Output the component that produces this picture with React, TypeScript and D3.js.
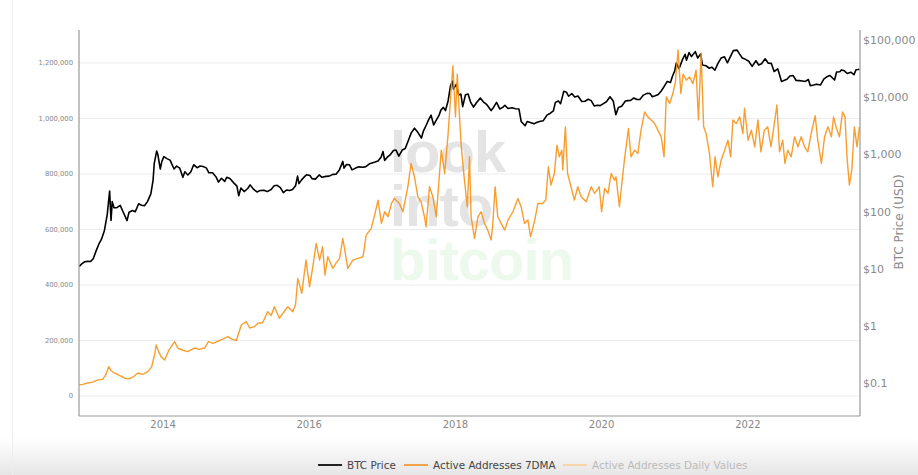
import React from "react";
import * as d3 from "d3";

const W = 918;
const H = 475;

const leftTicks = [0, 200000, 400000, 600000, 800000, 1000000, 1200000];
const rightTicks = [0.1, 1, 10, 100, 1000, 10000, 100000];
const rightTickLabels = ["$0.1", "$1", "$10", "$100", "$1,000", "$10,000", "$100,000"];
const xTickYears = [2014, 2016, 2018, 2020, 2022];
const legendItems = ["BTC Price", "Active Addresses 7DMA", "Active Addresses Daily Values"];

const btcPrice: [string, number][] = [
  ["2012-11-08", 11.0], ["2012-11-22", 12.3], ["2012-12-06", 13.3], ["2012-12-20", 13.5],
  ["2013-01-03", 13.4], ["2013-01-17", 15.0], ["2013-01-31", 20.4], ["2013-02-14", 27], ["2013-02-28", 33.4],
  ["2013-03-14", 47], ["2013-03-28", 89], ["2013-04-09", 230], ["2013-04-16", 70], ["2013-04-22", 150],
  ["2013-05-01", 117], ["2013-05-15", 118], ["2013-06-01", 129], ["2013-06-15", 100], ["2013-07-05", 70],
  ["2013-07-15", 98], ["2013-08-01", 105], ["2013-08-15", 100], ["2013-09-01", 138], ["2013-09-15", 130],
  ["2013-10-01", 128], ["2013-10-15", 150], ["2013-11-01", 205], ["2013-11-12", 355], ["2013-11-18", 700],
  ["2013-11-30", 1150], ["2013-12-06", 1000], ["2013-12-18", 560], ["2013-12-26", 760], ["2014-01-05", 920],
  ["2014-01-20", 850], ["2014-02-05", 800], ["2014-02-25", 560], ["2014-03-10", 630], ["2014-03-25", 580],
  ["2014-04-10", 400], ["2014-04-20", 500], ["2014-05-05", 440], ["2014-05-20", 500], ["2014-06-03", 665],
  ["2014-06-20", 590], ["2014-07-05", 630], ["2014-07-20", 620], ["2014-08-05", 585], ["2014-08-18", 480],
  ["2014-09-05", 480], ["2014-09-22", 410], ["2014-10-05", 330], ["2014-10-20", 385], ["2014-11-05", 340],
  ["2014-11-15", 400], ["2014-12-01", 380], ["2014-12-20", 320], ["2015-01-05", 280], ["2015-01-14", 190],
  ["2015-01-25", 260], ["2015-02-10", 225], ["2015-02-28", 255], ["2015-03-12", 295], ["2015-03-30", 245],
  ["2015-04-15", 222], ["2015-05-01", 235], ["2015-05-20", 237], ["2015-06-05", 225], ["2015-06-25", 245],
  ["2015-07-10", 285], ["2015-07-25", 290], ["2015-08-10", 265], ["2015-08-25", 215], ["2015-09-10", 240],
  ["2015-09-25", 235], ["2015-10-10", 245], ["2015-10-25", 285], ["2015-11-04", 420], ["2015-11-11", 310],
  ["2015-11-25", 365], ["2015-12-10", 415], ["2015-12-20", 445], ["2016-01-05", 430], ["2016-01-15", 380],
  ["2016-02-01", 372], ["2016-02-20", 440], ["2016-03-05", 400], ["2016-03-25", 415], ["2016-04-10", 420],
  ["2016-04-28", 450], ["2016-05-15", 455], ["2016-05-30", 530], ["2016-06-17", 760], ["2016-06-23", 580],
  ["2016-07-05", 670], ["2016-07-20", 665], ["2016-08-02", 540], ["2016-08-20", 580], ["2016-09-05", 610],
  ["2016-09-25", 600], ["2016-10-10", 615], ["2016-10-28", 690], ["2016-11-10", 715], ["2016-11-25", 740],
  ["2016-12-10", 770], ["2016-12-25", 900], ["2017-01-04", 1130], ["2017-01-12", 790], ["2017-01-25", 900],
  ["2017-02-10", 1000], ["2017-02-25", 1180], ["2017-03-10", 1200], ["2017-03-24", 940], ["2017-04-10", 1200],
  ["2017-04-25", 1280], ["2017-05-10", 1750], ["2017-05-25", 2400], ["2017-06-10", 2900], ["2017-06-25", 2500],
  ["2017-07-15", 1950], ["2017-07-25", 2600], ["2017-08-10", 3400], ["2017-08-20", 4100], ["2017-09-01", 4900],
  ["2017-09-14", 3300], ["2017-09-25", 3900], ["2017-10-10", 4800], ["2017-10-20", 6000], ["2017-11-01", 6700],
  ["2017-11-12", 5900], ["2017-11-25", 8700], ["2017-12-07", 16000], ["2017-12-17", 19300], ["2017-12-22", 14000],
  ["2018-01-05", 17000], ["2018-01-17", 11000], ["2018-01-28", 11500], ["2018-02-06", 6900], ["2018-02-20", 11200],
  ["2018-03-05", 11500], ["2018-03-18", 8200], ["2018-04-01", 6800], ["2018-04-15", 8000], ["2018-05-05", 9800],
  ["2018-05-20", 8400], ["2018-06-05", 7600], ["2018-06-28", 5900], ["2018-07-10", 6700], ["2018-07-25", 8200],
  ["2018-08-10", 6300], ["2018-08-25", 6700], ["2018-09-05", 7300], ["2018-09-20", 6400], ["2018-10-10", 6600],
  ["2018-10-28", 6350], ["2018-11-14", 6300], ["2018-11-25", 3800], ["2018-12-15", 3200], ["2018-12-25", 3800],
  ["2019-01-10", 3650], ["2019-01-28", 3450], ["2019-02-10", 3650], ["2019-02-25", 3800], ["2019-03-15", 3900],
  ["2019-04-03", 4900], ["2019-04-20", 5300], ["2019-05-05", 5800], ["2019-05-15", 8200], ["2019-05-30", 8700],
  ["2019-06-10", 7800], ["2019-06-26", 12800], ["2019-07-10", 12300], ["2019-07-20", 10500], ["2019-08-05", 11700],
  ["2019-08-20", 10200], ["2019-09-05", 10600], ["2019-09-24", 8500], ["2019-10-10", 8600], ["2019-10-26", 9300],
  ["2019-11-10", 8800], ["2019-11-25", 7100], ["2019-12-10", 7300], ["2019-12-25", 7200], ["2020-01-10", 7800],
  ["2020-01-25", 8400], ["2020-02-12", 10300], ["2020-02-28", 8700], ["2020-03-12", 5000], ["2020-03-25", 6700],
  ["2020-04-10", 7000], ["2020-04-29", 8700], ["2020-05-10", 8800], ["2020-05-25", 8900], ["2020-06-10", 9800],
  ["2020-06-25", 9200], ["2020-07-10", 9250], ["2020-07-28", 11000], ["2020-08-15", 11800], ["2020-08-30", 11700],
  ["2020-09-10", 10300], ["2020-09-25", 10700], ["2020-10-10", 11300], ["2020-10-25", 13000], ["2020-11-08", 15500],
  ["2020-11-24", 19100], ["2020-12-10", 18300], ["2020-12-20", 23500], ["2020-12-31", 29000], ["2021-01-08", 40000],
  ["2021-01-22", 32000], ["2021-02-08", 46000], ["2021-02-21", 57000], ["2021-02-28", 45000], ["2021-03-13", 61000],
  ["2021-03-25", 52000], ["2021-04-13", 63500], ["2021-04-25", 49000], ["2021-05-10", 58000], ["2021-05-19", 37000],
  ["2021-06-05", 36000], ["2021-06-22", 32500], ["2021-07-05", 34000], ["2021-07-20", 30000], ["2021-08-05", 40000],
  ["2021-08-20", 49000], ["2021-09-06", 51500], ["2021-09-21", 40500], ["2021-10-05", 51500], ["2021-10-20", 66000],
  ["2021-11-08", 67500], ["2021-11-20", 58000], ["2021-12-04", 49000], ["2021-12-20", 46500], ["2022-01-05", 43000],
  ["2022-01-22", 35000], ["2022-02-10", 44000], ["2022-02-24", 37000], ["2022-03-10", 39000], ["2022-03-28", 47500],
  ["2022-04-12", 40000], ["2022-04-28", 39500], ["2022-05-12", 28500], ["2022-05-30", 31800], ["2022-06-18", 19000],
  ["2022-06-30", 19800], ["2022-07-15", 20800], ["2022-07-30", 23700], ["2022-08-15", 24200], ["2022-08-30", 19800],
  ["2022-09-15", 19700], ["2022-09-30", 19400], ["2022-10-15", 19100], ["2022-10-30", 20600], ["2022-11-09", 16000],
  ["2022-11-25", 16500], ["2022-12-10", 17100], ["2022-12-30", 16550], ["2023-01-15", 20900], ["2023-01-30", 23000],
  ["2023-02-15", 24300], ["2023-03-10", 20200], ["2023-03-20", 28000], ["2023-04-05", 28200], ["2023-04-14", 30400],
  ["2023-04-28", 29300], ["2023-05-12", 26300], ["2023-05-30", 27700], ["2023-06-15", 25100], ["2023-06-25", 30500],
  ["2023-07-05", 30800], ["2023-07-13", 31300],
];

const activeAddresses7dma: [string, number][] = [
  ["2012-11-08", 40000], ["2012-11-25", 42000], ["2012-12-21", 47000], ["2013-01-15", 50000], ["2013-02-10", 58000],
  ["2013-03-05", 60000], ["2013-03-20", 75000], ["2013-04-05", 106000], ["2013-04-15", 92000], ["2013-05-02", 83000],
  ["2013-05-25", 75000], ["2013-06-22", 65000], ["2013-07-10", 62000], ["2013-07-25", 65000], ["2013-08-10", 72000],
  ["2013-08-28", 83000], ["2013-09-20", 78000], ["2013-10-17", 88000], ["2013-11-05", 105000], ["2013-11-20", 150000],
  ["2013-11-28", 184000], ["2013-12-10", 160000], ["2013-12-22", 142000], ["2014-01-09", 130000], ["2014-01-30", 165000],
  ["2014-02-28", 196000], ["2014-03-15", 173000], ["2014-04-10", 165000], ["2014-05-04", 160000], ["2014-06-07", 173000],
  ["2014-07-01", 168000], ["2014-07-27", 173000], ["2014-08-16", 196000], ["2014-09-07", 190000], ["2014-10-10", 200000],
  ["2014-11-21", 214000], ["2014-12-10", 205000], ["2015-01-02", 200000], ["2015-01-27", 256000], ["2015-02-21", 268000],
  ["2015-03-10", 245000], ["2015-04-02", 250000], ["2015-04-20", 262000], ["2015-05-13", 264000], ["2015-06-08", 304000],
  ["2015-06-25", 290000], ["2015-07-11", 322000], ["2015-08-05", 280000], ["2015-08-25", 300000], ["2015-09-16", 322000],
  ["2015-10-11", 304000], ["2015-10-25", 330000], ["2015-11-05", 424000], ["2015-11-25", 370000], ["2015-12-16", 490000],
  ["2016-01-03", 394000], ["2016-01-20", 470000], ["2016-02-05", 550000], ["2016-02-22", 490000], ["2016-03-08", 538000],
  ["2016-03-20", 436000], ["2016-04-03", 502000], ["2016-04-28", 460000], ["2016-05-15", 480000], ["2016-06-01", 496000],
  ["2016-06-17", 568000], ["2016-07-12", 460000], ["2016-07-25", 475000], ["2016-08-06", 490000], ["2016-09-01", 496000],
  ["2016-09-26", 502000], ["2016-10-12", 580000], ["2016-11-06", 604000], ["2016-11-23", 652000], ["2016-12-10", 706000],
  ["2016-12-27", 622000], ["2017-01-12", 664000], ["2017-01-29", 646000], ["2017-02-15", 694000], ["2017-03-02", 712000],
  ["2017-03-27", 694000], ["2017-04-13", 664000], ["2017-05-08", 754000], ["2017-05-24", 838000], ["2017-06-10", 790000],
  ["2017-06-27", 718000], ["2017-07-13", 700000], ["2017-07-30", 646000], ["2017-08-07", 610000], ["2017-08-24", 754000],
  ["2017-09-10", 718000], ["2017-09-27", 646000], ["2017-10-22", 886000], ["2017-11-08", 802000], ["2017-11-24", 934000],
  ["2017-12-10", 1100000], ["2017-12-19", 1190000], ["2018-01-01", 1006000], ["2018-01-10", 1160000], ["2018-01-22", 995000],
  ["2018-01-30", 898000], ["2018-02-13", 790000], ["2018-03-01", 682000], ["2018-03-12", 862000], ["2018-03-20", 646000],
  ["2018-04-06", 568000], ["2018-04-23", 646000], ["2018-05-09", 664000], ["2018-05-26", 622000], ["2018-06-11", 598000],
  ["2018-06-28", 562000], ["2018-07-06", 616000], ["2018-07-18", 754000], ["2018-07-31", 646000], ["2018-08-17", 622000],
  ["2018-09-04", 598000], ["2018-09-20", 634000], ["2018-10-15", 664000], ["2018-11-09", 712000], ["2018-11-25", 682000],
  ["2018-12-12", 622000], ["2018-12-29", 634000], ["2019-01-11", 574000], ["2019-02-01", 634000], ["2019-02-17", 694000],
  ["2019-03-12", 694000], ["2019-03-28", 706000], ["2019-04-10", 826000], ["2019-04-23", 760000], ["2019-05-10", 802000],
  ["2019-05-23", 904000], ["2019-06-04", 862000], ["2019-06-16", 886000], ["2019-06-21", 815000], ["2019-07-04", 970000],
  ["2019-07-15", 802000], ["2019-08-01", 754000], ["2019-08-18", 706000], ["2019-09-04", 754000], ["2019-09-21", 718000],
  ["2019-10-16", 700000], ["2019-11-10", 754000], ["2019-11-27", 730000], ["2019-12-20", 754000], ["2020-01-01", 664000],
  ["2020-01-16", 748000], ["2020-02-02", 730000], ["2020-02-18", 802000], ["2020-03-05", 778000], ["2020-03-13", 790000],
  ["2020-03-30", 682000], ["2020-04-11", 766000], ["2020-04-24", 850000], ["2020-05-14", 964000], ["2020-05-27", 862000],
  ["2020-06-14", 886000], ["2020-06-30", 874000], ["2020-07-16", 958000], ["2020-08-03", 1024000], ["2020-08-19", 1006000],
  ["2020-09-05", 995000], ["2020-09-22", 982000], ["2020-10-08", 958000], ["2020-10-25", 934000], ["2020-11-08", 862000],
  ["2020-11-19", 1078000], ["2020-12-06", 1054000], ["2020-12-22", 1090000], ["2021-01-04", 1133000], ["2021-01-17", 1247000],
  ["2021-01-31", 1090000], ["2021-02-11", 1160000], ["2021-02-28", 1138000], ["2021-03-15", 1150000], ["2021-04-01", 1126000],
  ["2021-04-17", 1174000], ["2021-04-29", 995000], ["2021-05-12", 1235000], ["2021-05-25", 970000], ["2021-06-06", 946000],
  ["2021-06-23", 874000], ["2021-07-09", 754000], ["2021-07-21", 862000], ["2021-08-04", 790000], ["2021-08-20", 850000],
  ["2021-09-07", 886000], ["2021-09-23", 922000], ["2021-10-07", 862000], ["2021-10-18", 995000], ["2021-11-04", 982000],
  ["2021-11-21", 1006000], ["2021-12-07", 946000], ["2021-12-15", 1037000], ["2022-01-02", 922000], ["2022-01-18", 958000],
  ["2022-02-04", 898000], ["2022-02-20", 995000], ["2022-03-07", 880000], ["2022-03-24", 958000], ["2022-04-10", 970000],
  ["2022-04-26", 898000], ["2022-05-13", 982000], ["2022-05-26", 1049000], ["2022-06-08", 880000], ["2022-06-24", 922000],
  ["2022-07-05", 838000], ["2022-07-19", 886000], ["2022-08-05", 862000], ["2022-08-22", 934000], ["2022-09-08", 898000],
  ["2022-09-24", 934000], ["2022-10-11", 898000], ["2022-10-27", 880000], ["2022-11-13", 946000], ["2022-12-03", 1010000],
  ["2022-12-16", 922000], ["2023-01-03", 838000], ["2023-01-19", 934000], ["2023-02-05", 970000], ["2023-02-22", 934000],
  ["2023-03-05", 1006000], ["2023-03-17", 970000], ["2023-04-03", 934000], ["2023-04-19", 1024000], ["2023-05-01", 1006000],
  ["2023-05-11", 862000], ["2023-05-23", 760000], ["2023-06-04", 815000], ["2023-06-17", 970000], ["2023-06-30", 898000],
  ["2023-07-12", 970000],
];

const FONT = "'DejaVu Sans', Verdana, sans-serif";
const parse = d3.timeParse("%Y-%m-%d");

export default function App() {
  const left = 79;
  const right = 860;
  const top = 30;
  const bottom = 416;

  const x = d3
    .scaleTime()
    .domain([parse("2012-11-07") as Date, parse("2023-07-15") as Date])
    .range([left, right]);
  const yL = d3.scaleLinear().domain([-72000, 1319000]).range([bottom, top]);
  const yR = d3.scaleLog().domain([0.0265, 151800]).range([bottom, top]);

  const btcLine = d3
    .line<[string, number]>()
    .x((d) => x(parse(d[0]) as Date))
    .y((d) => yR(d[1]));
  const aaLine = d3
    .line<[string, number]>()
    .x((d) => x(parse(d[0]) as Date))
    .y((d) => yL(d[1]));

  const fmt = d3.format(",");
  const orange = "#f7931a";

  const legendX = [318, 404, 563];
  const legendColors = ["#222", "#f4a24a", "#f8d4a8"];
  const legendTextColors = ["#444", "#444", "#bbb"];

  return (
    <div style={{ position: "fixed", left: 0, top: 0 }}>
      <svg width={W} height={H} style={{ display: "block" }}>
        <defs>
          <linearGradient id="bottomShade" x1="0" y1="0" x2="0" y2="1">
            <stop offset="0" stopColor="#ffffff" />
            <stop offset="1" stopColor="#e6e6e6" />
          </linearGradient>
          <clipPath id="plotClip">
            <rect x={left} y={top} width={right - left} height={bottom - top} />
          </clipPath>
        </defs>
        <rect x={0} y={0} width={W} height={H} fill="#fff" />
        <rect x={0} y={438} width={W} height={H - 438} fill="url(#bottomShade)" />
        <line x1={12.5} x2={12.5} y1={0} y2={H} stroke="#eeeeee" />

        {/* gridlines */}
        {leftTicks.map((t) => (
          <line key={t} x1={left} x2={right} y1={yL(t)} y2={yL(t)} stroke="#ececec" strokeWidth={1} />
        ))}

        {/* watermark */}
        <g fontFamily="'Liberation Sans', Arial, sans-serif" fontWeight="bold" fontSize={58} letterSpacing={-1}>
          <text x={390} y={172} fill="#e4e4e4">look</text>
          <text x={390} y={226} fill="#e4e4e4">into</text>
          <text x={390} y={280} fill="#edf9ec">bitcoin</text>
        </g>

        {/* lines */}
        <g clipPath="url(#plotClip)">
          <path d={btcLine(btcPrice) || ""} fill="none" stroke="#000" strokeWidth={1.6} strokeLinejoin="round" />
          <path d={aaLine(activeAddresses7dma) || ""} fill="none" stroke={orange} strokeWidth={1.4} strokeLinejoin="round" opacity={0.9} />
        </g>

        {/* axes frame */}
        <line x1={left} x2={left} y1={top} y2={bottom} stroke="#999" strokeWidth={1.2} />
        <line x1={right} x2={right} y1={top} y2={bottom} stroke="#999" strokeWidth={1.2} />
        <line x1={left} x2={right} y1={bottom} y2={bottom} stroke="#999" strokeWidth={1.2} />

        {/* left tick labels */}
        {leftTicks.map((t) => (
          <text key={t} x={left - 6} y={yL(t)} dy="0.35em" textAnchor="end" fontFamily={FONT} fontSize={6.8} fill="#888">
            {fmt(t)}
          </text>
        ))}

        {/* right tick labels */}
        {rightTicks.map((t, i) => (
          <text key={t} x={right + 3} y={yR(t)} dy="0.35em" textAnchor="start" fontFamily={FONT} fontSize={11} fill="#8a8a8a">
            {rightTickLabels[i]}
          </text>
        ))}
        <text
          transform={`translate(903, 222) rotate(-90)`}
          textAnchor="middle"
          fontFamily={FONT}
          fontSize={12}
          fill="#8a8a8a"
        >
          BTC Price (USD)
        </text>

        {/* x tick labels */}
        {xTickYears.map((yr) => (
          <text key={yr} x={x(new Date(yr, 0, 1))} y={428} textAnchor="middle" fontFamily={FONT} fontSize={10} fill="#888">
            {yr}
          </text>
        ))}

        {/* legend */}
        {legendItems.map((name, i) => (
          <g key={name}>
            <line x1={legendX[i]} x2={legendX[i] + 24} y1={465} y2={465} stroke={legendColors[i]} strokeWidth={2} />
            <text x={legendX[i] + 29} y={465} dy="0.35em" fontFamily={FONT} fontSize={10.4} fill={legendTextColors[i]}>
              {name}
            </text>
          </g>
        ))}
      </svg>
    </div>
  );
}
